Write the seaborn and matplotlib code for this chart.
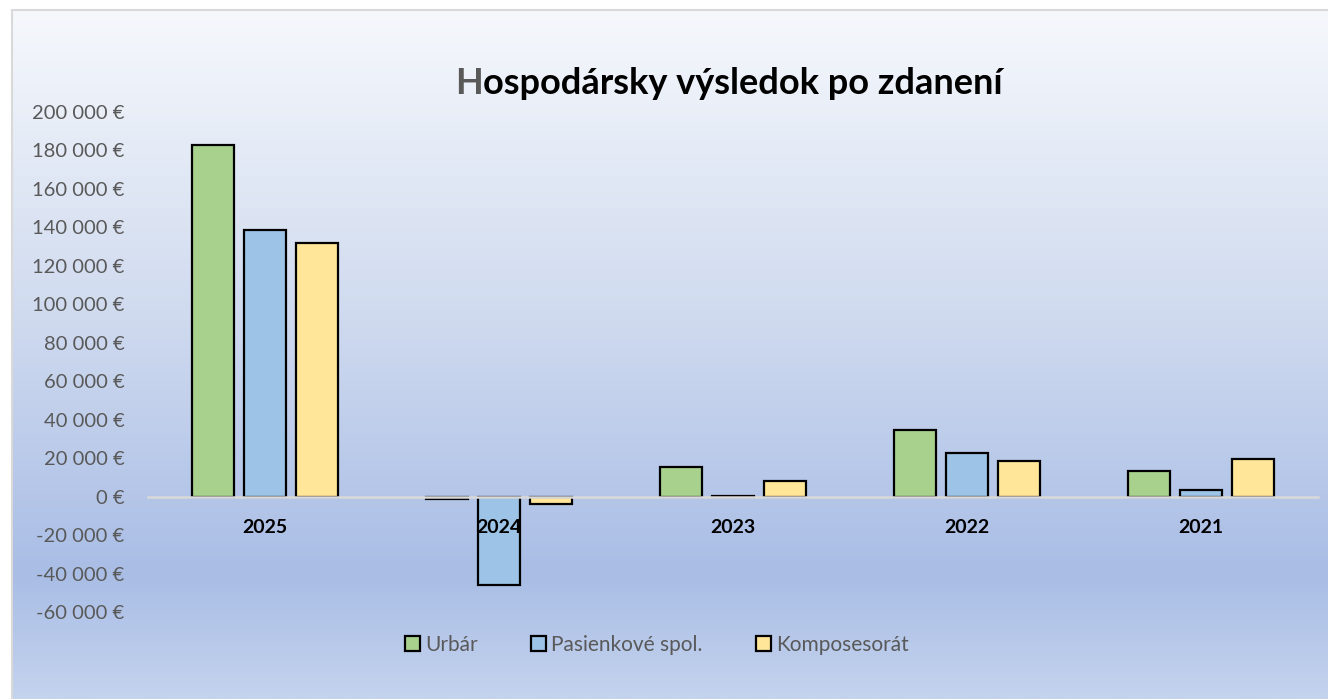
import numpy as np
import pandas as pd
import matplotlib.pyplot as plt
import seaborn as sns
from matplotlib.colors import LinearSegmentedColormap
from matplotlib.patches import Rectangle
from matplotlib.ticker import FuncFormatter

years = ['2025', '2024', '2023', '2022', '2021']
series = ['Urbár', 'Pasienkové spol.', 'Komposesorát']
urbar = [183000, -1400, 15400, 34800, 13100]
pasienkove = [138700, -45700, 500, 22900, 3600]
komposesorat = [132000, -4000, 8100, 18700, 19600]
colors = ['#a9d18e', '#9dc3e6', '#ffe699']

df = pd.DataFrame({
    'rok': years * 3,
    'hodnota': urbar + pasienkove + komposesorat,
    'typ': [s for s in series for _ in years],
})

sns.set_style('white')
plt.rcParams['font.family'] = ['Lato', 'DejaVu Sans']

W, H = 1328, 699
fig = plt.figure(figsize=(W / 100, H / 100), dpi=100)
fig.patch.set_facecolor('white')

# chart area background (vertical gradient like the Excel fill)
bg = fig.add_axes([12 / W, 0, 1 - 12 / W, (H - 10) / H], zorder=0)
cmap = LinearSegmentedColormap.from_list(
    'bg', [(0, '#f6f8fc'), (0.45, '#cfdaef'), (0.82, '#a9bde5'), (1, '#c4d3ee')])
bg.imshow(np.linspace(0, 1, 256).reshape(-1, 1), aspect='auto', cmap=cmap,
          extent=[0, 1, 0, 1], origin='upper')
bg.set_axis_off()
fig.add_artist(Rectangle((12 / W, -0.01), 1.0, (H - 10) / H + 0.01, transform=fig.transFigure,
                         fill=False, edgecolor='#d9d9d9', linewidth=1.5, zorder=0.5))

ax = fig.add_axes([148 / W, (H - 612) / H, (1318 - 148) / W, (612 - 112) / H], zorder=1)
ax.patch.set_alpha(0)
sns.barplot(data=df, x='rok', y='hodnota', hue='typ', order=years, hue_order=series,
            palette=colors, saturation=1, width=0.666, gap=0.19, edgecolor='black',
            linewidth=1.6, ax=ax, legend=True)
for p in ax.patches:
    p.set_zorder(1)
ax.set_axisbelow(False)

ax.set_ylim(-60000, 200000)
ax.set_xlim(-0.5, 4.5)
ax.set_yticks(range(-60000, 200001, 20000))
ax.yaxis.set_major_formatter(FuncFormatter(lambda v, p: f'{int(v):,} €'.replace(',', ' ')))
ax.set_xlabel('')
ax.set_ylabel('')

for s in ['left', 'right', 'top']:
    ax.spines[s].set_visible(False)
ax.spines['bottom'].set_position(('data', 0))
ax.spines['bottom'].set_color('#d9d9d9')
ax.spines['bottom'].set_linewidth(1.8)

ax.tick_params(axis='y', length=0, pad=17, labelsize=14.5, labelcolor='#595959')
ax.tick_params(axis='x', length=0, pad=16, labelsize=14, labelcolor='black')
for lbl in ax.get_xticklabels():
    lbl.set_fontweight('bold')
    lbl.set_zorder(5)

handles, labels = ax.get_legend_handles_labels()
ax.get_legend().remove()
leg = fig.legend(handles, labels, loc='center', bbox_to_anchor=(657 / W, 1 - 645 / H),
                 ncol=3, frameon=False, fontsize=15, handlelength=0.72, handleheight=0.72,
                 handletextpad=0.25, columnspacing=2.55)
for t in leg.get_texts():
    t.set_color('#595959')
for hd in leg.legend_handles:
    hd.set_edgecolor('black')
    hd.set_linewidth(1.6)

# title with the grey first letter
t1 = fig.text(455 / W, 1 - 94 / H, 'H', fontsize=26, fontweight='bold', color='#595959',
              ha='left', va='baseline')
ax.annotate('ospodársky výsledok po zdanení', xy=(1, 0), xycoords=t1, ha='left', va='bottom',
            fontsize=26, fontweight='bold', color='black', annotation_clip=False)

fig.savefig('out.png', dpi=100)
